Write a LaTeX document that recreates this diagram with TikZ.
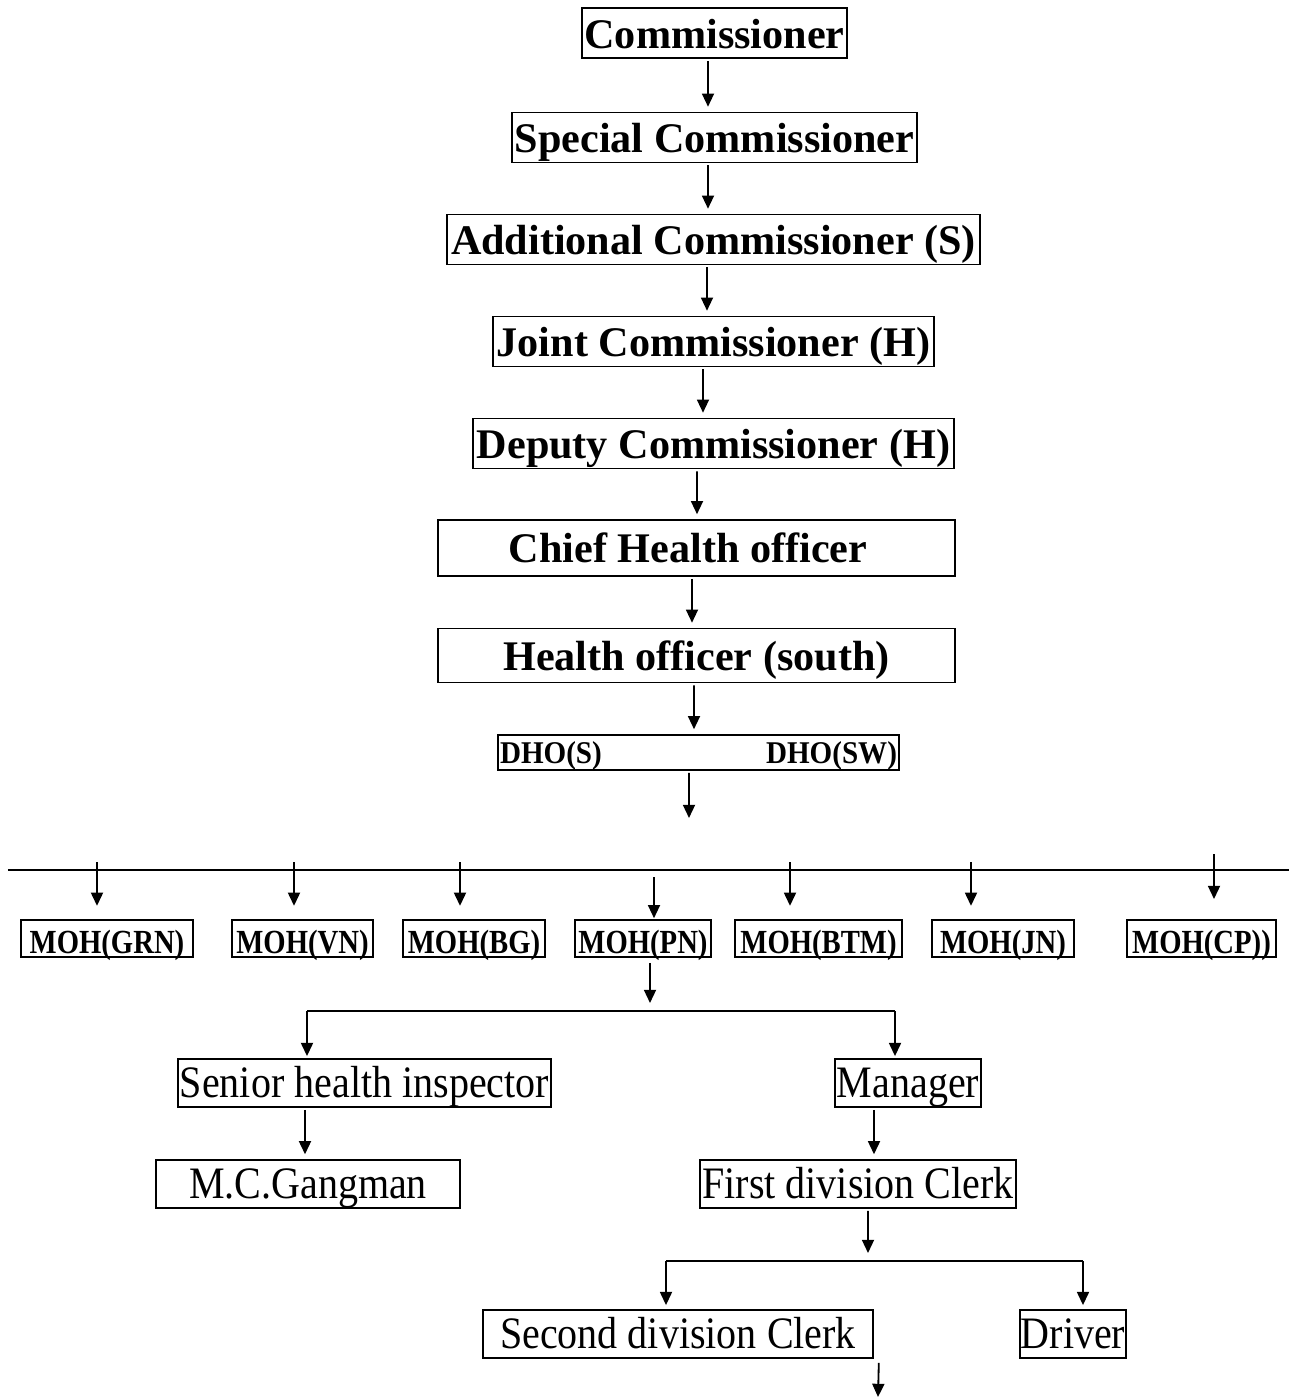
\documentclass[tikz,border=0pt]{standalone}
\usepackage{fontspec}
\setmainfont{Liberation Serif}
\newfontfamily\narrowfont[FakeStretch=0.89]{Liberation Serif}
\newfontfamily\moh[FakeStretch=0.85]{Liberation Serif}
\newfontfamily\dho[FakeStretch=0.92]{Liberation Serif}
\usepackage{tikz}
\usetikzlibrary{arrows.meta, positioning, calc}

\begin{document}
\begin{tikzpicture}[
  post/.style={draw, line width=1.4pt, rectangle, inner sep=0pt, text height=1cm, text depth=0.25cm, font=\fontsize{30}{36}\selectfont\bfseries},
  unit/.style={draw, line width=1.4pt, rectangle, inner sep=0pt, text height=0.825cm, text depth=0.1cm, font=\fontsize{24}{29}\moh\bfseries},
  staff/.style={draw, line width=1.3pt, rectangle, inner sep=0pt, text height=0.95cm, text depth=0.25cm, font=\fontsize{32}{38}\selectfont\narrowfont},
  down/.style={-{Triangle[length=0.33cm, width=0.3cm]}, line width=1.3pt},
  link/.style={down, shorten <=0.05cm, shorten >=0.12cm},
  bar/.style={line width=1.3pt}
]
\useasboundingbox (0,0) rectangle (32.275,-34.975);

\node[post, minimum width=6.625cm] (comm) at (17.8625, -0.825) {Commissioner};
\node[post, minimum width=10.125cm] (spec) at (17.8625, -3.4375) {Special Commissioner};
\node[post, minimum width=13.325cm] (addl) at (17.8375, -5.9875) {Additional Commissioner (S)};
\node[post, minimum width=11.025cm] (joint) at (17.8375, -8.5375) {Joint Commissioner (H)};
\node[post, minimum width=12.025cm] (dep) at (17.8375, -11.0875) {Deputy Commissioner (H)};
\node[post, minimum width=12.925cm, text height=1.05cm, text depth=0.35cm] (chief) at (17.4125, -13.7) {Chief Health officer\hspace*{0.42cm}};
\node[post, minimum width=12.925cm, text height=1.05cm, text depth=0.3cm] (hos) at (17.4125, -16.3875) {Health officer (south)};
\node[draw, line width=1.4pt, inner sep=0pt, inner xsep=0.05cm, text width=9.925cm, text height=0.7cm, text depth=0.175cm, font=\fontsize{22.5}{27}\dho\bfseries] (dho) at (17.4625, -18.8125) {DHO(S)\hfill DHO(SW)};

\draw[link] ([xshift=-0.1625cm]comm.south) -- ([xshift=-0.1625cm]spec.north);
\draw[link] ([xshift=-0.1625cm]spec.south) -- ([xshift=-0.1375cm]addl.north);
\draw[link] ([xshift=-0.1625cm]addl.south) -- ([xshift=-0.1625cm]joint.north);
\draw[link] ([xshift=-0.2625cm]joint.south) -- ([xshift=-0.2625cm]dep.north);
\draw[link] ([xshift=-0.4125cm]dep.south) -- ([xshift=0.0125cm]chief.north);
\draw[link] ([xshift=-0.1125cm]chief.south) -- ([xshift=-0.1125cm]hos.north);
\draw[link] ([xshift=-0.0625cm]hos.south) -- ([xshift=-0.1125cm]dho.north);
\coordinate (split) at (17.225, -20.45);
\draw[down, shorten <=0.05cm] ([xshift=-0.2375cm]dho.south) -- (split);

\draw[bar] (0.2, -21.75) -- (32.225, -21.75);

\node[unit, minimum width=4.3cm] (grn) at (2.675, -23.4625) {MOH(GRN)};
\node[unit, minimum width=3.525cm] (vn) at (7.5625, -23.4625) {MOH(VN)};
\node[unit, minimum width=3.55cm] (bg) at (11.85, -23.4625) {MOH(BG)};
\node[unit, minimum width=3.4cm] (pn) at (16.075, -23.4625) {MOH(PN)};
\node[unit, minimum width=4.175cm] (btm) at (20.4625, -23.4625) {MOH(BTM)};
\node[unit, minimum width=3.55cm] (jn) at (25.075, -23.4625) {MOH(JN)};
\node[unit, minimum width=3.725cm] (cp) at (30.0375, -23.4625) {MOH(CP))};

\coordinate (g1) at (2.425, -21.55);
\coordinate (g2) at (7.35, -21.55);
\coordinate (g3) at (11.5, -21.55);
\coordinate (g4) at (16.35, -21.925);
\coordinate (g5) at (19.75, -21.55);
\coordinate (g6) at (24.275, -21.55);
\coordinate (g7) at (30.35, -21.35);
\draw[down, shorten >=0.33cm] (g1) -- (g1 |- grn.north);
\draw[down, shorten >=0.33cm] (g2) -- (g2 |- vn.north);
\draw[down, shorten >=0.33cm] (g3) -- (g3 |- bg.north);
\draw[down, shorten >=0.02cm] (g4) -- (g4 |- pn.north);
\draw[down, shorten >=0.33cm] (g5) -- (g5 |- btm.north);
\draw[down, shorten >=0.33cm] (g6) -- (g6 |- jn.north);
\draw[down, shorten >=0.5cm] (g7) -- (g7 |- cp.north);

\node[staff, minimum width=9.325cm] (shi) at (9.1125, -27.075) {Senior health inspector};
\node[staff, minimum width=3.65cm] (mgr) at (22.7, -27.075) {Manager};
\node[staff, minimum width=7.6cm] (mcg) at (7.7, -29.6) {M.C.Gangman};
\node[staff, minimum width=7.9cm] (fdc) at (21.45, -29.6) {First division Clerk};
\node[staff, minimum width=9.75cm] (sdc) at (16.95, -33.35) {Second division Clerk};
\node[staff, minimum width=2.65cm] (drv) at (26.825, -33.35) {Driver};

\coordinate (pnsplit) at (16.25, -25.075);
\draw[down, shorten <=0.12cm] ([xshift=0.175cm]pn.south) -- (pnsplit);
\coordinate (b1) at (7.675, -25.275);
\coordinate (b2) at (22.375, -25.275);
\draw[bar] (b1) -- (b2);
\draw[down, shorten >=0.05cm] (b1) -- (b1 |- shi.north);
\draw[down, shorten >=0.05cm] (b2) -- (b2 |- mgr.north);
\draw[link] ([xshift=-1.4875cm]shi.south) -- ([xshift=-0.075cm]mcg.north);
\draw[link] ([xshift=-0.85cm]mgr.south) -- ([xshift=0.4cm]fdc.north);

\coordinate (fdcsplit) at (21.7, -31.325);
\draw[down, shorten <=0.05cm] ([xshift=0.25cm]fdc.south) -- (fdcsplit);
\coordinate (c1) at (16.65, -31.525);
\coordinate (c2) at (27.075, -31.525);
\draw[bar] (c1) -- (c2);
\draw[down, shorten >=0.1cm] (c1) -- (c1 |- sdc.north);
\draw[down, shorten >=0.1cm] (c2) -- (c2 |- drv.north);
\coordinate (tail) at (21.95, -34.925);
\draw[down, shorten <=0.1cm] ([xshift=0.125cm]sdc.south east) -- (tail);

\end{tikzpicture}
\end{document}
